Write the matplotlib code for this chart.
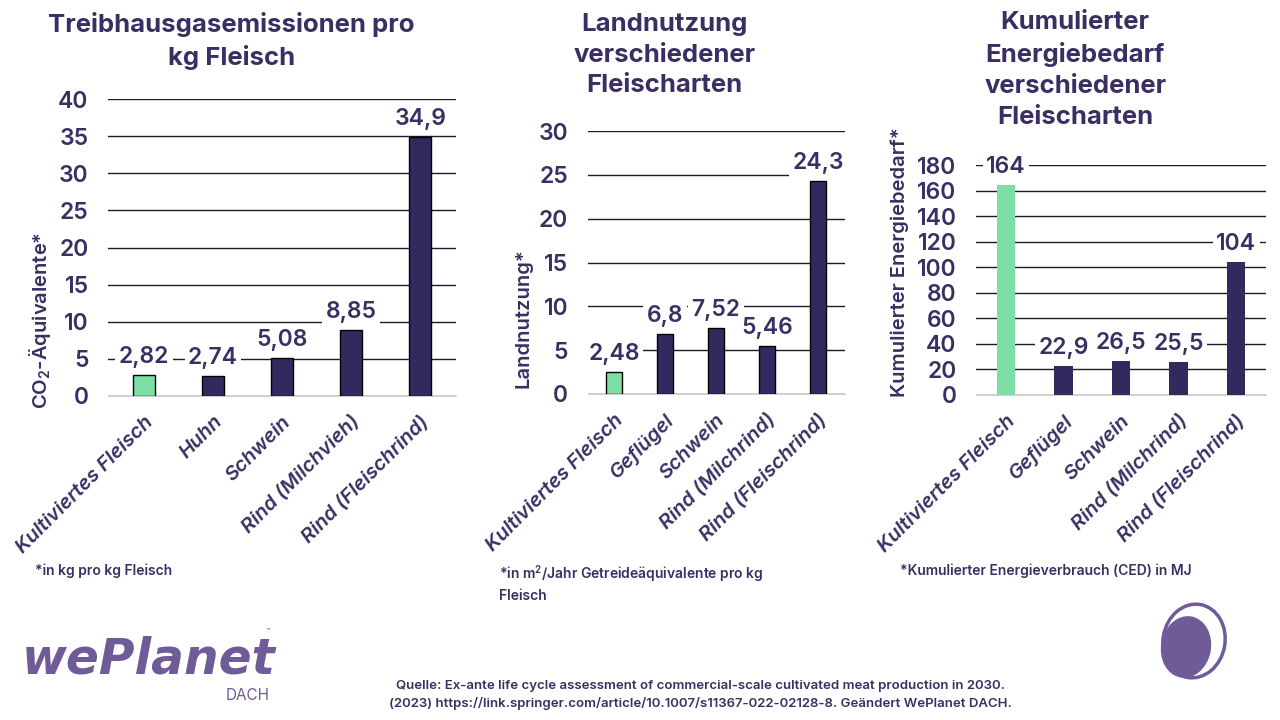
import matplotlib.pyplot as plt
from matplotlib.patches import Ellipse

plt.rcParams['font.family'] = ['Inter', 'DejaVu Sans']
plt.rcParams['mathtext.default'] = 'regular'

DARK = '#33295e'
GREEN = '#7ddfa5'
TXT = '#3a2e62'
LOGO = '#6f5b97'

# chart 1: greenhouse gas
ghg_cats = ['Kultiviertes Fleisch', 'Huhn', 'Schwein', 'Rind (Milchvieh)', 'Rind (Fleischrind)']
ghg_vals = [2.82, 2.74, 5.08, 8.85, 34.9]
ghg_labels = ['2,82', '2,74', '5,08', '8,85', '34,9']

# chart 2: land use
land_cats = ['Kultiviertes Fleisch', 'Geflügel', 'Schwein', 'Rind (Milchrind)', 'Rind (Fleischrind)']
land_vals = [2.48, 6.8, 7.52, 5.46, 24.3]
land_labels = ['2,48', '6,8', '7,52', '5,46', '24,3']

# chart 3: cumulative energy demand
ced_cats = ['Kultiviertes Fleisch', 'Geflügel', 'Schwein', 'Rind (Milchrind)', 'Rind (Fleischrind)']
ced_vals = [164, 22.9, 26.5, 25.5, 104]
ced_labels = ['164', '22,9', '26,5', '25,5', '104']

fig = plt.figure(figsize=(12.8, 7.2), dpi=100)


def panel(rect, cats, vals, labels, ymax, step, edge):
    ax = fig.add_axes(rect)
    colors = [GREEN] + [DARK] * (len(vals) - 1)
    x = range(len(cats))
    ax.bar(x, vals, width=0.32, color=colors,
           edgecolor='black' if edge else 'none', linewidth=1 if edge else 0, zorder=3)
    ax.set_xlim(-0.52, len(cats) - 0.48)
    ax.set_ylim(0, ymax)
    ax.set_yticks(range(0, ymax + 1, step))
    ax.yaxis.grid(True, color='#1a1a2a', linewidth=1)
    ax.set_axisbelow(True)
    for s in ['top', 'right', 'left']:
        ax.spines[s].set_visible(False)
    ax.spines['bottom'].set_color('#d0d0d0')
    ax.tick_params(axis='both', length=0)
    ax.tick_params(axis='y', labelsize=16.5, labelcolor=TXT, pad=14)
    for t in ax.get_yticklabels():
        t.set_fontweight('semibold')
    ax.set_xticks(list(x))
    ax.set_xticklabels(cats, rotation=45, ha='right', rotation_mode='anchor',
                       fontsize=14.5, fontstyle='italic', fontweight='semibold', color=TXT)
    ax.tick_params(axis='x', pad=12)
    for xi, v, lab in zip(x, vals, labels):
        ax.annotate(lab, (xi, v), xytext=(0, 13), textcoords='offset points',
                    ha='center', va='center', fontsize=16.5, color=TXT, fontweight='semibold',
                    bbox=dict(boxstyle='square,pad=0.15', fc='white', ec='none'), zorder=4)
    return ax


panel([0.0844, 0.45, 0.272, 0.4125], ghg_cats, ghg_vals, ghg_labels, 40, 5, True)
panel([0.459, 0.4528, 0.2008, 0.365], land_cats, land_vals, land_labels, 30, 5, True)
panel([0.7625, 0.4514, 0.2266, 0.3194], ced_cats, ced_vals, ced_labels, 180, 20, False)

title_kw = dict(ha='center', va='top', fontsize=18.5, fontweight='bold', color=TXT, linespacing=1.42)
fig.text(0.181, 1 - 12 / 720, 'Treibhausgasemissionen pro\nkg Fleisch', **title_kw)
fig.text(0.519, 1 - 13 / 720, 'Landnutzung\nverschiedener\nFleischarten', **title_kw)
fig.text(0.840, 1 - 11 / 720, 'Kumulierter\nEnergiebedarf\nverschiedener\nFleischarten', **title_kw)

ylab_kw = dict(rotation=90, ha='center', va='center', fontsize=14.5, fontweight='semibold', color=TXT)
fig.text(0.031, 1 - 320 / 720, 'CO$_2$-Äquivalente*', **ylab_kw)
fig.text(0.409, 1 - 318 / 720, 'Landnutzung*', **ylab_kw)
fig.text(0.703, 1 - 262 / 720, 'Kumulierter Energiebedarf*', **ylab_kw)

note_kw = dict(ha='left', va='top', fontsize=10, fontweight='semibold', color=TXT, linespacing=1.5)
fig.text(35 / 1280, 1 - 563 / 720, '*in kg pro kg Fleisch', **note_kw)
fig.text(499 / 1280, 1 - 563 / 720, '*in m$^2$/Jahr Getreideäquivalente pro kg\nFleisch', **note_kw)
fig.text(900 / 1280, 1 - 563 / 720, '*Kumulierter Energieverbrauch (CED) in MJ', **note_kw)

fig.text(700 / 1280, 1 - 695 / 720,
         'Quelle: Ex-ante life cycle assessment of commercial-scale cultivated meat production in 2030.\n'
         '(2023) https://link.springer.com/article/10.1007/s11367-022-02128-8. Geändert WePlanet DACH.',
         ha='center', va='center', fontsize=9.5, fontweight='semibold', color=TXT, linespacing=1.4)

# logo text
fig.text(22 / 1280, 1 - 660 / 720, 'wePlanet', ha='left', va='center', fontsize=35,
         fontstyle='italic', fontweight='bold', color=LOGO, family=['DejaVu Sans'])
fig.text(270 / 1280, 1 - 696 / 720, 'DACH', ha='right', va='center', fontsize=11, color=LOGO)
fig.text(266 / 1280, 1 - 630 / 720, '™', ha='left', va='center', fontsize=5, color=LOGO)

# circle logo
lax = fig.add_axes([1150 / 1280, 1 - 685 / 720, 84 / 1280, 84 / 720])
lax.set_xlim(0, 84)
lax.set_ylim(0, 84)
lax.axis('off')
lax.add_patch(Ellipse((44, 44), 62, 74, angle=-10, fill=False, ec=LOGO, lw=2.5))
lax.add_patch(Ellipse((36, 38), 50, 62, angle=-10, fc=LOGO, ec='none'))

fig.savefig('out.png', dpi=100, facecolor='white')
